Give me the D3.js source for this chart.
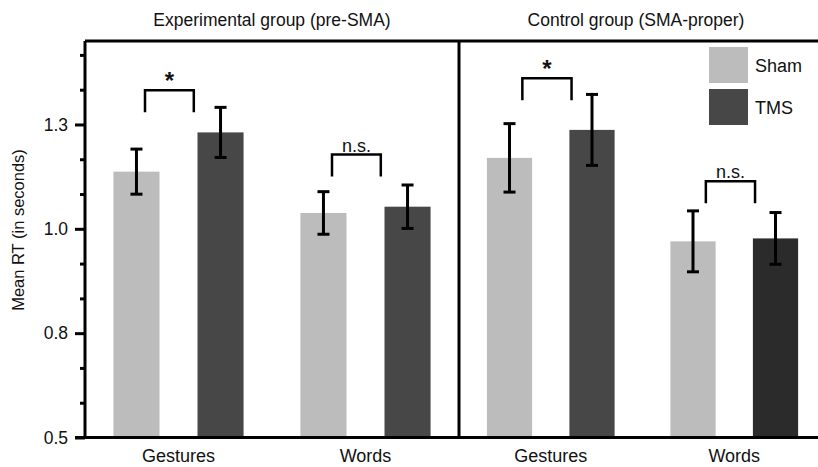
<!DOCTYPE html>
<html>
<head>
<meta charset="utf-8">
<script src="https://cdn.jsdelivr.net/npm/d3@7"></script>
<style>
  body { margin: 0; background: #fff; }
  text { font-family: "Liberation Sans", Arial, Helvetica, sans-serif; fill: #111; }
</style>
</head>
<body>
<div id="chart"></div>
<script>
// panels, groups and conditions
const panels = ["Experimental group (pre-SMA)", "Control group (SMA-proper)"];
const groups = ["Gestures", "Words"];
const conditions = ["Sham", "TMS"];

// mean RT (s): [Gestures, Words]
const expSham = [1.137, 1.038];
const expTMS = [1.231, 1.053];
const ctlSham = [1.170, 0.970];
const ctlTMS = [1.237, 0.977];

// error bar half-lengths
const expShamErr = [0.054, 0.051];
const expTMSErr = [0.060, 0.052];
const ctlShamErr = [0.082, 0.073];
const ctlTMSErr = [0.085, 0.062];

// significance brackets: label and bracket level per group
const expSig = ["*", "n.s."];
const ctlSig = ["*", "n.s."];
const expSigLevel = [1.332, 1.178];
const ctlSigLevel = [1.361, 1.114];

// axis ticks
const yMajorTicks = [0.5, 0.75, 1.0, 1.25];
const yMinorTicks = [0.5833, 0.6667, 0.8333, 0.9167, 1.0833, 1.1667, 1.3333, 1.4167];

// build rows from the small arrays
const means = [[expSham, expTMS], [ctlSham, ctlTMS]];
const errs = [[expShamErr, expTMSErr], [ctlShamErr, ctlTMSErr]];
const sigs = [expSig, ctlSig];
const sigLevels = [expSigLevel, ctlSigLevel];

let rows = [];
panels.forEach((p, pi) => {
    groups.forEach((g, gi) => {
        conditions.forEach((c, ci) => {
            rows.push({panel: pi, group: g, cond: c, mean: means[pi][ci][gi], err: errs[pi][ci][gi]});
        });
    });
});

let brackets = [];
panels.forEach((p, pi) => {
    groups.forEach((g, gi) => {
        brackets.push({panel: pi, group: g, label: sigs[pi][gi], level: sigLevels[pi][gi]});
    });
});

// layout
const width = 818, height = 467;
const plotTop = 41, plotBottom = 437.5, plotLeft = 85;
const panelX = [85, 459];
const panelW = [374, 367];
const bracketOffset = [[-33.5, 15.3], [-28.4, 20.8]];

const svg = d3.select("#chart").append("svg")
    .attr("width", width)
    .attr("height", height);

const y = d3.scaleLinear().domain([0.5, 1.45]).range([plotBottom, plotTop]);

// per-panel x scales
const xGroup = panelW.map(w => d3.scalePoint().domain(groups).range([0, w]).padding(0.5));
const xCond = panelW.map(w => d3.scaleBand().domain(conditions)
    .range([-0.174 * w, 0.174 * w]).paddingInner(0.452).paddingOuter(0));

function barX(d) {
    return panelX[d.panel] + xGroup[d.panel](d.group) + xCond[d.panel](d.cond);
}
function barCx(d) {
    return barX(d) + xCond[d.panel].bandwidth() / 2;
}
function fillOf(d) {
    if (d.cond === "Sham") return "#bcbcbc";
    return (d.panel === 1 && d.group === "Words") ? "#2b2b2b" : "#474747";
}

// bars
svg.selectAll(".bar")
    .data(rows)
    .enter()
    .append("rect")
    .attr("class", "bar")
    .attr("x", barX)
    .attr("y", d => y(d.mean))
    .attr("width", d => xCond[d.panel].bandwidth())
    .attr("height", d => y(0.5) - y(d.mean))
    .attr("fill", fillOf);

// error bars
let eb = svg.selectAll(".err")
    .data(rows)
    .enter()
    .append("g")
    .attr("class", "err")
    .attr("stroke", "#000")
    .attr("stroke-width", 3);
eb.append("line")
    .attr("x1", barCx).attr("x2", barCx)
    .attr("y1", d => y(d.mean + d.err))
    .attr("y2", d => y(d.mean - d.err));
eb.append("line")
    .attr("x1", d => barCx(d) - 6).attr("x2", d => barCx(d) + 6)
    .attr("y1", d => y(d.mean + d.err)).attr("y2", d => y(d.mean + d.err));
eb.append("line")
    .attr("x1", d => barCx(d) - 6).attr("x2", d => barCx(d) + 6)
    .attr("y1", d => y(d.mean - d.err)).attr("y2", d => y(d.mean - d.err));

// significance brackets
let br = svg.selectAll(".bracket")
    .data(brackets)
    .enter()
    .append("g")
    .attr("class", "bracket");
br.append("path")
    .attr("fill", "none")
    .attr("stroke", "#000")
    .attr("stroke-width", 2.5)
    .attr("d", d => {
        let cx = panelX[d.panel] + xGroup[d.panel](d.group);
        let x0 = cx + bracketOffset[d.panel][0], x1 = cx + bracketOffset[d.panel][1];
        let yy = y(d.level);
        return `M${x0},${yy + 22}V${yy}H${x1}V${yy + 22}`;
    });
br.append("text")
    .attr("x", d => panelX[d.panel] + xGroup[d.panel](d.group) + (bracketOffset[d.panel][0] + bracketOffset[d.panel][1]) / 2)
    .attr("y", d => d.label === "*" ? y(d.level) - 1 : y(d.level) - 3)
    .attr("text-anchor", "middle")
    .style("font-size", d => d.label === "*" ? "24px" : "18px")
    .style("font-weight", d => d.label === "*" ? "bold" : "normal")
    .text(d => d.label);

// y axis (major + minor ticks)
let yAxis = svg.append("g")
    .attr("class", "axis axis-y")
    .attr("transform", `translate(${plotLeft},0)`)
    .call(d3.axisLeft(y).tickValues(yMajorTicks).tickFormat(d3.format(".1f")).tickSize(10).tickPadding(7));
yAxis.select(".domain").remove();
yAxis.selectAll(".tick line").attr("stroke", "#000").attr("stroke-width", 3);
yAxis.selectAll(".tick text").style("font-size", "17.5px").attr("fill", "#111");

let yMinor = svg.append("g")
    .attr("class", "axis axis-y-minor")
    .attr("transform", `translate(${plotLeft},0)`)
    .call(d3.axisLeft(y).tickValues(yMinorTicks).tickFormat("").tickSize(5));
yMinor.select(".domain").remove();
yMinor.selectAll(".tick line").attr("stroke", "#000").attr("stroke-width", 3);

// frame
const frame = svg.append("g").attr("stroke", "#000").attr("stroke-width", 3);
frame.append("line").attr("x1", plotLeft).attr("x2", plotLeft).attr("y1", plotTop).attr("y2", plotBottom);
frame.append("line").attr("x1", plotLeft).attr("x2", width).attr("y1", plotTop).attr("y2", plotTop);
frame.append("line").attr("x1", plotLeft - 10).attr("x2", width).attr("y1", plotBottom).attr("y2", plotBottom);
frame.append("line").attr("x1", panelX[1]).attr("x2", panelX[1]).attr("y1", plotTop).attr("y2", plotBottom);

// x labels and panel titles
panels.forEach((p, pi) => {
    svg.append("g")
        .selectAll("text")
        .data(groups)
        .enter()
        .append("text")
        .attr("x", g => panelX[pi] + xGroup[pi](g))
        .attr("y", 462)
        .attr("text-anchor", "middle")
        .style("font-size", "18px")
        .text(g => g);

    svg.append("text")
        .attr("x", pi === 0 ? panelX[0] + panelW[0] / 2 : 636)
        .attr("y", 26)
        .attr("text-anchor", "middle")
        .style("font-size", "17.5px")
        .text(p);
});

// y-axis label
svg.append("text")
    .attr("transform", "rotate(-90)")
    .attr("x", -230)
    .attr("y", 24)
    .attr("text-anchor", "middle")
    .style("font-size", "16.5px")
    .text("Mean RT (in seconds)");

// legend
const legendFill = {Sham: "#bcbcbc", TMS: "#474747"};
let lg = svg.selectAll(".legend")
    .data(conditions)
    .enter()
    .append("g")
    .attr("class", "legend")
    .attr("transform", (d, i) => `translate(709,${47 + i * 42})`);
lg.append("rect")
    .attr("width", 39)
    .attr("height", 36)
    .attr("fill", d => legendFill[d]);
lg.append("text")
    .attr("x", 46)
    .attr("y", 25)
    .style("font-size", "18px")
    .text(d => d);
</script>
</body>
</html>
